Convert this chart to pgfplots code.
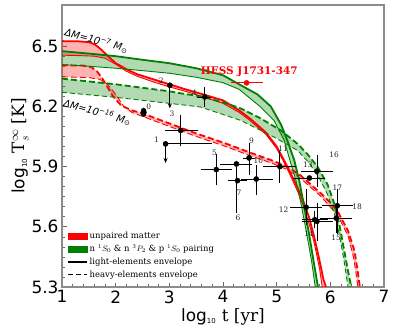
\documentclass[border=0pt]{standalone}
\usepackage{fontspec}
\setmainfont{DejaVu Serif}
\setsansfont{DejaVu Sans}
\usepackage{pgfplots}
\pgfplotsset{compat=1.18}
\usepgfplotslibrary{fillbetween}
\usetikzlibrary{arrows.meta}
\definecolor{mgreen}{RGB}{0,128,0}
\begin{document}
\begin{tikzpicture}
\begin{axis}[at={(0,0)}, anchor=south west, scale only axis,
  width=322bp, height=282bp,
  xmin=1, xmax=7, ymin=5.3, ymax=6.705,
  xtick={1,2,3,4,5,6,7},
  ytick={5.3,5.6,5.9,6.2,6.5},
  yticklabels={5.3,5.6,5.9,6.2,6.5},
  minor x tick num=4, minor y tick num=5,
  tick align=inside, xtick pos=bottom, ytick pos=left,
  major tick length=5bp, minor tick length=3bp,
  every tick/.style={black!60, line width=0.6pt},
  axis line style={black!45, line width=1.3pt},
  /pgf/number format/assume math mode=true,
  ticklabel style={font=\sffamily\fontsize{17}{17}\selectfont},
  xlabel={\textsf{log}$_{\textsf{\scriptsize 10}}$ t [yr]},
  ylabel={\textsf{log}$_{\textsf{\scriptsize 10}}$ T$_s^{\infty}$ [K]},
  label style={font=\fontsize{17}{17}\selectfont},
  xlabel style={yshift=2bp},
  ylabel style={yshift=-4bp},
  clip=true,
  legend style={draw=none, fill=white, at={(0.01,0.015)}, anchor=south west,
    font=\fontsize{8.5}{10}\selectfont, row sep=0.8bp, inner sep=2bp},
  legend cell align=left,
]
% ---------- red solid (unpaired, light elements)
\addplot[forget plot, red, line width=1.8pt, name path=RSU] coordinates {
(1,6.525)(1.3,6.524)(1.5,6.52)(1.6,6.51)(1.7,6.49)(1.8,6.465)(1.9,6.44)(2.0,6.415)(2.2,6.385)(2.4,6.36)(2.7,6.335)(3.0,6.31)(3.3,6.285)(3.6,6.262)(4.0,6.23)(4.3,6.18)(4.5,6.14)(4.8,6.07)(5.0,6.0)(5.15,5.925)(5.3,5.845)(5.4,5.79)(5.5,5.725)(5.6,5.65)(5.7,5.55)(5.8,5.43)(5.87,5.34)(5.92,5.3)};
\addplot[forget plot, red, line width=0.9pt, name path=RSL] coordinates {
(1,6.455)(1.3,6.453)(1.6,6.45)(1.8,6.44)(2.0,6.41)(2.2,6.375)(2.4,6.35)(2.7,6.322)(3.0,6.297)(3.3,6.275)(3.6,6.25)(4.0,6.215)(4.3,6.17)(4.5,6.13)(4.8,6.06)(5.0,5.99)(5.15,5.915)(5.3,5.83)(5.4,5.77)(5.5,5.70)(5.6,5.62)(5.7,5.52)(5.8,5.39)(5.85,5.3)};
\addplot[forget plot, red, opacity=0.3] fill between[of=RSU and RSL];
% ---------- red dashed (unpaired, heavy elements)
\addplot[forget plot, red, line width=1.8pt, dash pattern=on 6bp off 3bp, name path=RDU] coordinates {
(1,6.405)(1.4,6.403)(1.55,6.395)(1.65,6.375)(1.75,6.34)(1.85,6.295)(1.95,6.25)(2.1,6.205)(2.3,6.18)(2.5,6.165)(3.0,6.115)(3.5,6.065)(4.0,6.02)(4.5,5.97)(4.9,5.932)(5.2,5.9)(5.45,5.855)(5.83,5.765)(6.0,5.72)(6.14,5.675)(6.33,5.58)(6.45,5.48)(6.51,5.38)(6.55,5.3)};
\addplot[forget plot, red, line width=0.9pt, dash pattern=on 6bp off 3bp, name path=RDL] coordinates {
(1,6.347)(1.5,6.343)(1.7,6.335)(1.85,6.31)(2.0,6.26)(2.15,6.2)(2.3,6.17)(2.5,6.15)(3.0,6.1)(3.5,6.05)(4.0,6.005)(4.5,5.955)(4.9,5.918)(5.2,5.885)(5.45,5.84)(5.83,5.75)(6.14,5.655)(6.33,5.555)(6.43,5.45)(6.49,5.35)(6.51,5.3)};
\addplot[forget plot, red, opacity=0.3] fill between[of=RDU and RDL];
% ---------- green solid (paired, light elements)
\addplot[forget plot, mgreen, line width=1.8pt, name path=GSU] coordinates {
(1,6.475)(1.5,6.463)(2,6.45)(2.5,6.432)(3,6.415)(3.5,6.39)(4,6.355)(4.3,6.31)(4.64,6.26)(4.89,6.2)(5.08,6.11)(5.2,6.03)(5.33,5.93)(5.42,5.83)(5.5,5.72)(5.6,5.57)(5.7,5.41)(5.77,5.3)};
\addplot[forget plot, mgreen, line width=0.9pt, name path=GSL] coordinates {
(1,6.408)(1.5,6.40)(2,6.39)(2.5,6.378)(3,6.365)(3.5,6.345)(4,6.318)(4.3,6.285)(4.7,6.197)(4.95,6.13)(5.14,6.03)(5.27,5.91)(5.36,5.83)(5.45,5.72)(5.55,5.58)(5.65,5.43)(5.72,5.3)};
\addplot[forget plot, mgreen, opacity=0.3] fill between[of=GSU and GSL];
% ---------- green dashed (paired, heavy elements)
\addplot[forget plot, mgreen, line width=1.8pt, dash pattern=on 6bp off 3bp, name path=GDU] coordinates {
(1,6.338)(2,6.31)(3,6.275)(3.21,6.265)(3.58,6.25)(4.0,6.22)(4.33,6.19)(4.7,6.14)(5.08,6.08)(5.39,6.013)(5.58,5.96)(5.76,5.9)(5.95,5.81)(6.08,5.71)(6.17,5.61)(6.26,5.48)(6.33,5.38)(6.39,5.3)};
\addplot[forget plot, mgreen, line width=0.9pt, dash pattern=on 5bp off 3bp, name path=GDL] coordinates {
(1,6.27)(2,6.245)(3,6.215)(3.58,6.197)(4.33,6.13)(4.95,6.047)(5.39,5.98)(5.6,5.92)(5.8,5.84)(5.95,5.76)(6.08,5.66)(6.17,5.56)(6.25,5.44)(6.33,5.3)};
\addplot[forget plot, mgreen, opacity=0.3] fill between[of=GDU and GDL];
% ---------- data points with x and y errors
\addplot[forget plot, only marks, black, mark=*, mark size=2.6pt,
  error bars/.cd, x dir=both, x explicit, y dir=both, y explicit,
  error bar style={line width=0.8pt}, error mark options={line width=0.8pt, mark size=2.5pt}]
  table[x=x, y=y, x error plus=xp, x error minus=xm, y error plus=yp, y error minus=ym] {
x     y      xm    xp    ym    yp
3.21  6.08   0.25  0.28  0.067 0.066
3.66  6.247  0.10  0.07  0.037 0.036
3.875 5.885  0.245 0.255 0.065 0.065
4.25  5.913  0.26  0.24  0.233 0.0
4.485 5.943  0.065 0.065 0.071 0.062
4.62  5.838  0.23  0.26  0.068 0.059
5.06  5.90   0.26  0.26  0.07  0.067
5.75  5.877  0.25  0.25  0.067 0.066
5.55  5.697  0.25  0.25  0.077 0.08
5.71  5.635  0.20  0.20  0.03  0.03
5.75  5.627  0.24  0.26  0.084 0.078
6.11  5.643  0.25  0.25  0.06  0.06
6.13  5.705  0.24  0.24  0.128 0.072
};
% ---------- data points with x errors only
\addplot[forget plot, only marks, black, mark=*, mark size=2.6pt,
  error bars/.cd, x dir=both, x explicit,
  error bar style={line width=0.8pt}, error mark options={line width=0.8pt, mark size=2.5pt}]
  table[x=x, y=y, x error plus=xp, x error minus=xm] {
x     y      xm    xp
2.93  6.013  0.0   0.81
4.27  5.83   0.13  0.14
5.61  5.843  0.25  0.25
};
% ---------- upper limits
\addplot[forget plot, only marks, black, mark=*, mark size=2.6pt] coordinates {(3.01,6.305)};
\addplot[forget plot, black, line width=0.8pt, -{Stealth[length=5bp,width=4bp]},
  quiver={u=0, v=\thisrow{v}}] table[x=x, y=y] {
x     y      v
2.93  6.013  -0.095
3.01  6.305  -0.115
};
% ---------- point 0
\addplot[forget plot, only marks, black, mark=*, mark size=2.8pt, mark options={yscale=1.6}] coordinates {(2.52,6.17)};
% ---------- HESS J1731-347
\addplot[forget plot, only marks, red, mark=*, mark size=2.6pt,
  error bars/.cd, x dir=both, x explicit,
  error bar style={line width=0.8pt}, error mark options={line width=0.8pt, mark size=2.5pt}]
  table[x=x, y=y, x error plus=xp, x error minus=xm] {
x     y      xm    xp
4.44  6.317  0.25  0.25
};
% ---------- labels
\begin{scope}[every node/.style={font=\fontsize{7.5}{8}\selectfont, text=black!85, inner sep=0pt}]
\node at (axis cs:2.615,6.197) {0};
\node at (axis cs:2.76,6.033) {1};
\node at (axis cs:2.85,6.327) {2};
\node at (axis cs:3.05,6.163) {3};
\node at (axis cs:3.47,6.27) {4};
\node at (axis cs:3.84,5.967) {5};
\node at (axis cs:4.28,5.647) {6};
\node at (axis cs:4.30,5.77) {7};
\node at (axis cs:4.53,6.03) {9};
\node at (axis cs:4.66,5.927) {10};
\node at (axis cs:5.12,5.988) {11};
\node at (axis cs:5.13,5.683) {12};
\node at (axis cs:5.58,5.908) {13};
\node at (axis cs:5.60,5.567) {14};
\node at (axis cs:6.11,5.547) {15};
\node at (axis cs:6.07,5.958) {16};
\node at (axis cs:6.13,5.793) {17};
\node at (axis cs:6.50,5.70) {18};
\end{scope}
\node[red, font=\bfseries\fontsize{10.5}{11}\selectfont, inner sep=0pt] at (axis cs:4.49,6.372) {HESS J1731-347};
\node[rotate=-15, font=\sffamily\itshape\fontsize{10}{10}\selectfont, inner sep=0pt] at (axis cs:1.645,6.527) {ΔM=10\textsuperscript{−7} M\textsubscript{⊙}};
\node[rotate=-15, font=\sffamily\itshape\fontsize{10}{10}\selectfont, inner sep=0pt] at (axis cs:1.66,6.17) {ΔM=10\textsuperscript{−16} M\textsubscript{⊙}};
% ---------- legend
\addlegendimage{legend image code/.code={\fill[red] (0bp,-3bp) rectangle (19bp,3bp);}}
\addlegendentry{unpaired matter}
\addlegendimage{legend image code/.code={\fill[mgreen] (0bp,-3bp) rectangle (19bp,3bp);}}
\addlegendentry{n $^1S_0$ \& n $^3P_2$ \& p $^1S_0$ pairing}
\addlegendimage{legend image code/.code={\draw[black, line width=1.3pt] (0bp,0bp) -- (19bp,0bp);}}
\addlegendentry{light-elements envelope}
\addlegendimage{legend image code/.code={\draw[black, line width=1.3pt, dash pattern=on 5bp off 3bp] (0bp,0bp) -- (19bp,0bp);}}
\addlegendentry{heavy-elements envelope}
\end{axis}
\pgfresetboundingbox
\path (-62bp,-48bp) rectangle (333bp,287bp);
\end{tikzpicture}
\end{document}
